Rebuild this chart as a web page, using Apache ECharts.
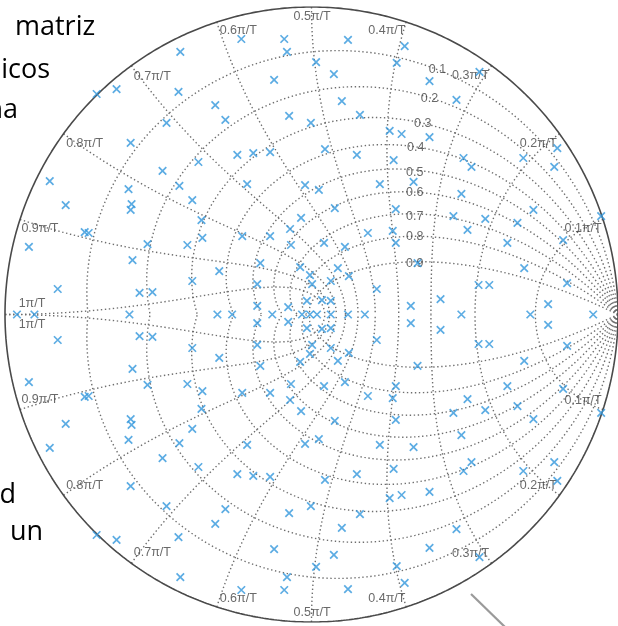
<!DOCTYPE html>
<html>
<head>
<meta charset="utf-8">
<script src="https://cdn.jsdelivr.net/npm/echarts@6/dist/echarts.min.js"></script>
<style>
  html, body { margin: 0; padding: 0; background: #fff; overflow: hidden; }
  #chart { width: 618px; height: 626px; }
</style>
</head>
<body>
<div id="chart"></div>
<script>
// Poles of the system in the z-plane, [real, imaginary]
const polesUpper = [
  [-0.428, 0.854], [-0.701, 0.717], [-0.636, 0.733], [-0.434, 0.724], [-0.473, 0.623], [-0.590, 0.558],
  [-0.229, 0.896], [-0.089, 0.896], [0.119, 0.893], [0.304, 0.873], [-0.080, 0.854], [0.015, 0.821],
  [0.278, 0.818], [0.073, 0.782], [-0.122, 0.763], [-0.314, 0.681], [0.099, 0.694], [-0.281, 0.633],
  [-0.073, 0.646], [-0.002, 0.623], [0.158, 0.649], [0.255, 0.597], [0.294, 0.587], [-0.242, 0.519],
  [-0.190, 0.525], [-0.135, 0.528], [0.044, 0.538], [0.148, 0.519],
  [0.385, 0.759], [0.548, 0.789], [0.473, 0.698], [0.385, 0.577], [0.802, 0.541], [0.496, 0.509], [0.691, 0.509],
  [-0.854, 0.434], [-0.802, 0.356], [-0.597, 0.408], [-0.587, 0.359], [-0.590, 0.340], [-0.486, 0.467],
  [-0.431, 0.418], [-0.389, 0.372], [-0.369, 0.496], [-0.359, 0.307], [-0.356, 0.249], [-0.740, 0.268],
  [-0.727, 0.265], [-0.922, 0.220], [-0.535, 0.229], [-0.405, 0.226], [-0.584, 0.177], [-0.828, 0.083],
  [-0.561, 0.070], [-0.519, 0.073], [-0.389, 0.109],
  [0.268, 0.502], [-0.210, 0.424], [-0.021, 0.421], [0.024, 0.405], [0.223, 0.424], [0.076, 0.346],
  [0.275, 0.343], [-0.034, 0.314], [-0.070, 0.278], [-0.226, 0.255], [-0.135, 0.255], [0.184, 0.265],
  [0.265, 0.272], [0.275, 0.233], [-0.067, 0.226], [0.041, 0.233], [0.109, 0.220], [-0.167, 0.167],
  [-0.301, 0.141], [-0.037, 0.154], [0.086, 0.151], [-0.005, 0.128], [0.122, 0.125], [-0.177, 0.099],
  [0.002, 0.099], [0.063, 0.109], [0.213, 0.083], [0.324, 0.028], [-0.177, 0.028], [-0.076, 0.024],
  [-0.015, 0.044], [0.034, 0.047], [0.063, 0.044],
  [0.522, 0.480], [0.792, 0.480], [0.333, 0.431], [0.489, 0.392], [0.724, 0.340], [0.945, 0.320],
  [0.463, 0.320], [0.567, 0.311], [0.509, 0.275], [0.672, 0.298], [0.821, 0.242], [0.639, 0.233],
  [0.346, 0.167], [0.694, 0.151], [0.545, 0.096], [0.580, 0.096], [0.834, 0.102], [0.421, 0.050],
  [0.772, 0.034]
];
const polesLower = [
  [-0.428, -0.854], [-0.701, -0.717], [-0.636, -0.733], [-0.434, -0.724], [-0.473, -0.623], [-0.590, -0.558],
  [-0.229, -0.896], [-0.089, -0.896], [0.119, -0.893], [0.304, -0.873], [-0.080, -0.854], [0.015, -0.821],
  [0.278, -0.818], [0.073, -0.782], [-0.122, -0.763], [-0.314, -0.681], [0.099, -0.694], [-0.281, -0.633],
  [-0.073, -0.646], [-0.002, -0.623], [0.158, -0.649], [0.255, -0.597], [0.294, -0.587], [-0.242, -0.519],
  [-0.190, -0.525], [-0.135, -0.528], [0.044, -0.538], [0.148, -0.519],
  [0.385, -0.759], [0.548, -0.789], [0.473, -0.698], [0.385, -0.577], [0.802, -0.541], [0.496, -0.509], [0.691, -0.509],
  [-0.854, -0.434], [-0.802, -0.356], [-0.597, -0.408], [-0.587, -0.359], [-0.590, -0.340], [-0.486, -0.467],
  [-0.431, -0.418], [-0.389, -0.372], [-0.369, -0.496], [-0.359, -0.307], [-0.356, -0.249], [-0.740, -0.268],
  [-0.727, -0.265], [-0.922, -0.220], [-0.535, -0.229], [-0.405, -0.226], [-0.584, -0.177], [-0.828, -0.083],
  [-0.561, -0.070], [-0.519, -0.073], [-0.389, -0.109],
  [0.268, -0.502], [-0.210, -0.424], [-0.021, -0.421], [0.024, -0.405], [0.223, -0.424], [0.076, -0.346],
  [0.275, -0.343], [-0.034, -0.314], [-0.070, -0.278], [-0.226, -0.255], [-0.135, -0.255], [0.184, -0.265],
  [0.265, -0.272], [0.275, -0.233], [-0.067, -0.226], [0.041, -0.233], [0.109, -0.220], [-0.167, -0.167],
  [-0.301, -0.141], [-0.037, -0.154], [0.086, -0.151], [-0.005, -0.128], [0.122, -0.125], [-0.177, -0.099],
  [0.002, -0.099], [0.063, -0.109], [0.213, -0.083], [0.324, -0.028], [-0.177, -0.028], [-0.076, -0.024],
  [-0.015, -0.044], [0.034, -0.047], [0.063, -0.044],
  [0.522, -0.480], [0.792, -0.480], [0.333, -0.431], [0.489, -0.392], [0.724, -0.340], [0.945, -0.320],
  [0.463, -0.320], [0.567, -0.311], [0.509, -0.275], [0.672, -0.298], [0.821, -0.242], [0.639, -0.233],
  [0.346, -0.167], [0.694, -0.151], [0.545, -0.096], [0.580, -0.096], [0.834, -0.102], [0.421, -0.050],
  [0.772, -0.034]
];
const polesReal = [-0.961, -0.904, -0.594, -0.307, -0.259, -0.128, -0.031, -0.005, 0.018, 0.063, 0.119, 0.174, 0.489, 0.714, 0.919];

// Grid values: damping ratios and natural frequencies (multiples of pi/T)
const dampingRatios = [0.1, 0.2, 0.3, 0.4, 0.5, 0.6, 0.7, 0.8, 0.9];
const dampingLabels = ['0.1', '0.2', '0.3', '0.4', '0.5', '0.6', '0.7', '0.8', '0.9'];
const natFreqs = [0.1, 0.2, 0.3, 0.4, 0.5, 0.6, 0.7, 0.8, 0.9, 1.0];
const natFreqLabels = ['0.1π/T', '0.2π/T', '0.3π/T', '0.4π/T', '0.5π/T', '0.6π/T', '0.7π/T', '0.8π/T', '0.9π/T', '1π/T'];

// Where each grid label sits (z-plane coordinates of the text centre)
const dampingLabelAt = [[0.411, 0.795], [0.385, 0.701], [0.363, 0.620], [0.340, 0.544], [0.337, 0.462],
  [0.337, 0.397], [0.337, 0.320], [0.337, 0.252], [0.337, 0.167]];
const natFreqLabelAt = [[0.886, 0.280], [0.740, 0.557], [0.519, 0.777], [0.246, 0.923], [0.002, 0.969],
  [-0.239, 0.923], [-0.519, 0.775], [-0.740, 0.556], [-0.886, 0.278], [-0.912, 0.034]];

const PI = Math.PI;

// constant-damping spiral: z = exp(-zeta*theta/sqrt(1-zeta^2)) * e^{j theta}, theta in [0, pi]
function dampingCurve(zeta, sign) {
  const k = zeta / Math.sqrt(1 - zeta * zeta);
  const pts = [];
  for (let i = 0; i <= 300; i++) {
    const th = PI * i / 300;
    const r = Math.exp(-k * th);
    pts.push([r * Math.cos(th), sign * r * Math.sin(th)]);
  }
  return pts;
}
// constant natural-frequency curve: z = exp(wT(-zeta + j sqrt(1-zeta^2))), zeta in [0, 1]
function freqCurve(w, sign) {
  const pts = [];
  for (let i = 0; i <= 200; i++) {
    const phi = (PI / 2) * i / 200;
    const zeta = Math.sin(phi);
    const m = Math.exp(-w * PI * zeta);
    const a = w * PI * Math.cos(phi);
    pts.push([m * Math.cos(a), sign * m * Math.sin(a)]);
  }
  return pts;
}
function unitCircle() {
  const pts = [];
  for (let i = 0; i <= 720; i++) {
    const a = 2 * PI * i / 720;
    pts.push([Math.cos(a), Math.sin(a)]);
  }
  return pts;
}

const gridStyle = { color: '#6e6e6e', width: 1.4, type: [1.4, 2.6] };
const series = [];
function addGridLine(pts) {
  series.push({
    type: 'line', data: pts, showSymbol: false, symbol: 'none', silent: true,
    lineStyle: gridStyle, z: 1, animation: false
  });
}
dampingRatios.forEach(z => { addGridLine(dampingCurve(z, 1)); addGridLine(dampingCurve(z, -1)); });
natFreqs.forEach(w => { addGridLine(freqCurve(w, 1)); addGridLine(freqCurve(w, -1)); });

series.push({
  type: 'line', data: unitCircle(), showSymbol: false, symbol: 'none', silent: true,
  lineStyle: { color: '#4a4a4a', width: 1.6 }, z: 2, animation: false
});

// grid labels
const labelData = [];
dampingLabels.forEach((t, i) => labelData.push({ value: dampingLabelAt[i], name: t }));
natFreqLabels.forEach((t, i) => {
  const p = natFreqLabelAt[i];
  labelData.push({ value: [p[0], p[1]], name: t });
  labelData.push({ value: [p[0], -p[1]], name: t });
});
series.push({
  type: 'scatter', data: labelData, symbolSize: 1, silent: true, z: 3, animation: false,
  itemStyle: { color: 'rgba(0,0,0,0)' },
  label: {
    show: true, position: 'inside', formatter: p => p.name,
    color: '#444', fontSize: 12.5, fontFamily: 'Liberation Sans, Arial, sans-serif'
  }
});

// poles
const allPoles = polesUpper.concat(polesLower, polesReal.map(r => [r, 0]));
series.push({
  type: 'scatter', data: allPoles, z: 5, animation: false, silent: true,
  symbol: 'path://M0,0L10,10M10,0L0,10', symbolSize: 7.5,
  itemStyle: { color: 'rgba(0,0,0,0)', borderColor: '#3397dc', borderWidth: 1.7 }
});

const chart = echarts.init(document.getElementById('chart'));
chart.setOption({
  animation: false,
  backgroundColor: '#fff',
  grid: { left: 5, top: 7, width: 615, height: 615 },
  xAxis: { type: 'value', min: -1, max: 1, show: false },
  yAxis: { type: 'value', min: -1, max: 1, show: false },
  series: series,
  graphic: [
    { type: 'text', x: 15, y: 41, style: { text: 'matriz', font: '27px "Open Sans"', fill: '#000', verticalAlign: 'bottom' } },
    { type: 'text', x: 50, y: 84, style: { text: 'icos', font: '27px "Open Sans"', fill: '#000', align: 'right', verticalAlign: 'bottom' } },
    { type: 'text', x: 18, y: 124, style: { text: 'na', font: '27px "Open Sans"', fill: '#000', align: 'right', verticalAlign: 'bottom' } },
    { type: 'text', x: 16, y: 509, style: { text: 'd', font: '27px "Open Sans"', fill: '#000', align: 'right', verticalAlign: 'bottom' } },
    { type: 'text', x: 10, y: 546, style: { text: 'un', font: '27px "Open Sans"', fill: '#000', verticalAlign: 'bottom' } },
    { type: 'line', shape: { x1: 471, y1: 594, x2: 506, y2: 628 }, style: { stroke: '#9a9a9a', lineWidth: 2.2 } }
  ]
});
</script>
</body>
</html>
